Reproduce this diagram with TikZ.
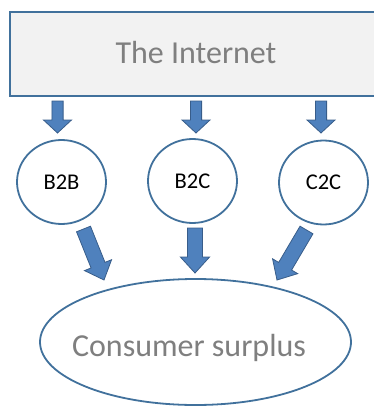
\documentclass[tikz,border=0pt]{standalone}
\usepackage{fontspec}
\setmainfont{Carlito}
\usetikzlibrary{calc,shapes.geometric}

\definecolor{edgeblue}{HTML}{41719C}
\definecolor{arrowfill}{HTML}{4F81BD}
\definecolor{arrowedge}{HTML}{385D8A}
\definecolor{panelgray}{HTML}{F2F2F2}
\definecolor{labelgray}{HTML}{7F7F7F}

\tikzset{
  ba shaft/.store in=\bashaft,
  ba head/.store in=\bahead,
  ba head length/.store in=\baheadlen,
  % block arrow drawn as a polygon from the start point to the tip
  blockarrow/.style={fill=arrowfill, draw=arrowedge, line width=0.8pt, line join=miter,
    to path={
      ($(\tikztotarget)!\baheadlen!(\tikztostart)$) coordinate (bahd)
      ($(\tikztostart)!\bashaft!90:(\tikztotarget)$)
      -- ($(bahd)!\bashaft!-90:(\tikztostart)$)
      -- ($(bahd)!\bahead!-90:(\tikztostart)$)
      -- (\tikztotarget)
      -- ($(bahd)!\bahead!90:(\tikztostart)$)
      -- ($(bahd)!\bashaft!90:(\tikztostart)$)
      -- ($(\tikztostart)!\bashaft!-90:(\tikztotarget)$)
      -- cycle}},
  smallarrow/.style={blockarrow, ba shaft=5.6pt, ba head=14pt, ba head length=13pt},
  bigarrow/.style={blockarrow, ba shaft=7.5pt, ba head=14.6pt, ba head length=16pt},
  panel/.style={draw=edgeblue, fill=panelgray, line width=1.9pt, inner sep=0pt,
    minimum width=372pt, minimum height=84pt, text=labelgray,
    font=\fontsize{32}{38}\selectfont},
  circ/.style={ellipse, draw=edgeblue, fill=white, line width=1.8pt, inner sep=0pt,
    minimum width=89pt, minimum height=84pt, font=\fontsize{22.5}{27}\selectfont},
  bigoval/.style={ellipse, draw=edgeblue, fill=white, line width=1.8pt, inner sep=0pt,
    minimum width=311pt, minimum height=126pt},
  graytext/.style={text=labelgray, inner sep=0pt, font=\fontsize{32}{38}\selectfont},
}

\begin{document}
\begin{tikzpicture}[x=1pt, y=-1pt]
  \useasboundingbox (0,0) rectangle (374,407);

  % source panel
  \node[panel, text height=18pt, text depth=0pt] (inet) at (196,54) {The Internet};

  % market types
  \node[circ] (b2b) at (61.5,182) {B2B};
  \node[circ] (b2c) at (192.5,181) {B2C};
  \node[circ] (c2c) at (323.5,182.5) {C2C};

  % outcome
  \node[bigoval] (cs) at (195.5,342) {};
  \node[graytext, anchor=base] (cstext) at (189,356) {Consumer surplus};

  % arrow end points
  \coordinate (s1) at (57.5,101);  \coordinate (t1) at (57.5,133);
  \coordinate (s2) at (196,101);   \coordinate (t2) at (196,133);
  \coordinate (s3) at (321,101);   \coordinate (t3) at (321,133);
  \coordinate (u1) at (83.5,229);  \coordinate (v1) at (104,280);
  \coordinate (u2) at (195,228);   \coordinate (v2) at (195,273);
  \coordinate (u3) at (306.5,230); \coordinate (v3) at (277,280);

  % panel to market types
  \draw[smallarrow] (s1) to (t1);
  \draw[smallarrow] (s2) to (t2);
  \draw[smallarrow] (s3) to (t3);

  % market types to consumer surplus
  \draw[bigarrow] (u1) to (v1);
  \draw[bigarrow] (u2) to (v2);
  \draw[bigarrow] (u3) to (v3);
\end{tikzpicture}
\end{document}
